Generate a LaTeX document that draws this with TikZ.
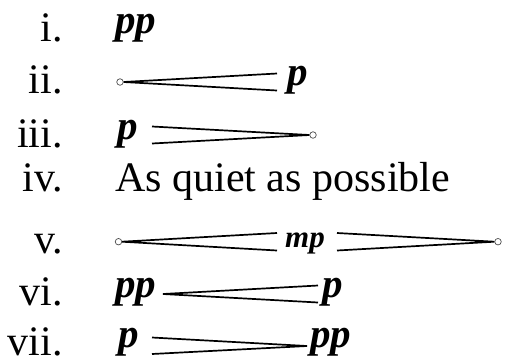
\documentclass[tikz,border=0pt]{standalone}
\usepackage{fontspec}
\setmainfont{Liberation Serif}
\usetikzlibrary{positioning}

\tikzset{
  numlabel/.style={anchor=base east, inner sep=0pt, text depth=0pt, font=\fontsize{42}{50}\selectfont},
  dyn/.style={anchor=base west, inner sep=0pt, font=\fontsize{41}{48}\selectfont\bfseries\itshape},
  niente/.style={circle, draw=black!70, inner sep=0pt, minimum size=6.5pt, line width=0.7pt},
  hairpin/.style={line width=1.7pt}
}

\begin{document}
\begin{tikzpicture}[x=1pt, y=-1pt]
  \useasboundingbox (0,0) rectangle (506,360);

  % numbering
  \node[numlabel] (l1) at (63,41) {i.};
  \node[numlabel] (l2) at (63,93) {ii.};
  \node[numlabel] (l3) at (63,147) {iii.};
  \node[numlabel] (l4) at (63,191) {iv.};
  \node[numlabel] (l5) at (63,253) {v.};
  \node[numlabel] (l6) at (63,305) {vi.};
  \node[numlabel] (l7) at (63,355) {vii.};

  % i.
  \node[dyn] (d1) at (115,33.5) {pp};

  % ii.
  \node[niente] (n2) at (120,82) {};
  \coordinate (w2a) at (277,73.5);
  \coordinate (w2b) at (277,90.5);
  \node[dyn] (d2) at (287,85) {p};
  \draw[hairpin] (w2a) -- (n2.east) -- (w2b);

  % iii.
  \node[dyn] (d3) at (117,139.5) {p};
  \coordinate (w3a) at (152,126.5);
  \coordinate (w3b) at (152,143.5);
  \node[niente] (n3) at (313,135) {};
  \draw[hairpin] (w3a) -- (n3.west) -- (w3b);

  % iv.
  \node[anchor=base west, inner sep=0pt, font=\fontsize{42}{50}\selectfont] (t4) at (115,191) {As quiet as possible};

  % v.
  \node[niente] (n5a) at (118.5,241.7) {};
  \coordinate (w5a) at (277,233);
  \coordinate (w5b) at (277,250.5);
  \node[dyn, font=\fontsize{31}{36}\selectfont\bfseries\itshape] (d5) at (285,247) {mp};
  \coordinate (w5c) at (337,233);
  \coordinate (w5d) at (337,250.5);
  \node[niente] (n5b) at (498,241.7) {};
  \draw[hairpin] (w5a) -- (n5a.east) -- (w5b);
  \draw[hairpin] (w5c) -- (n5b.west) -- (w5d);

  % vi.
  \node[dyn] (d6a) at (115,297.5) {pp};
  \coordinate (w6) at (163,294);
  \coordinate (w6a) at (318,285.5);
  \coordinate (w6b) at (318,302.5);
  \node[dyn] (d6b) at (322,297.5) {p};
  \draw[hairpin] (w6a) -- (w6) -- (w6b);

  % vii.
  \node[dyn] (d7a) at (118,347.5) {p};
  \coordinate (w7a) at (152,337.5);
  \coordinate (w7b) at (152,354);
  \coordinate (w7) at (307,346);
  \node[dyn] (d7b) at (310,347.5) {pp};
  \draw[hairpin] (w7a) -- (w7) -- (w7b);
\end{tikzpicture}
\end{document}
